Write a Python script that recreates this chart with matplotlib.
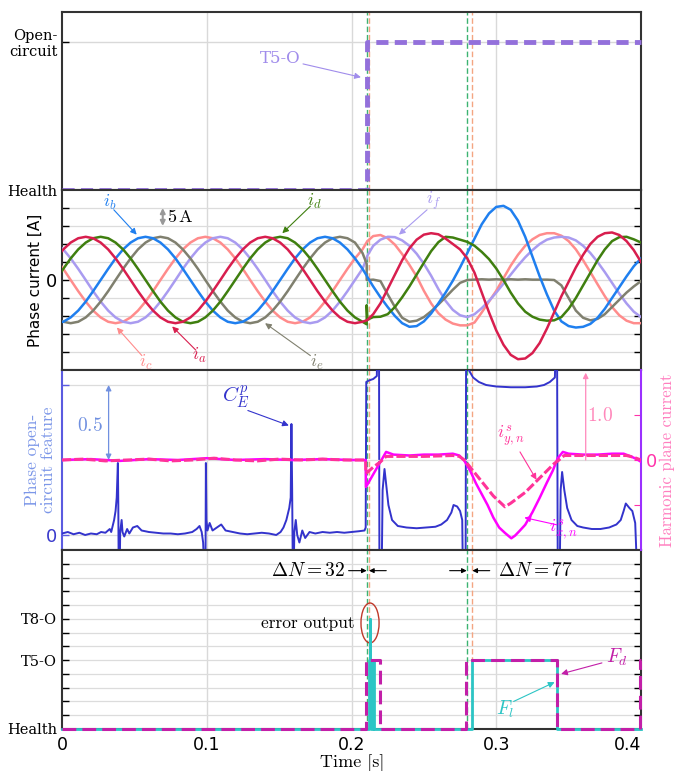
import matplotlib
matplotlib.use("Agg")
import numpy as np
import matplotlib.pyplot as plt
from matplotlib.patches import Ellipse

plt.rcParams['mathtext.fontset'] = 'cm'
SERIF = 'DejaVu Serif'
CM = 'cmr10'

# ---------------- data ----------------
# fault status (top panel): 0 = Health, 1 = Open-circuit
status_t = [0.0, 0.2105, 0.4]
status_v = [0, 1, 1]

# phase currents [A]
t_pre = [-0.0043, 0.0009, 0.0060, 0.0112, 0.0164, 0.0215, 0.0267, 0.0319, 0.0370, 0.0422,
         0.0474, 0.0525, 0.0577, 0.0629, 0.0680, 0.0732, 0.0784, 0.0835, 0.0887, 0.0939,
         0.0990, 0.1042, 0.1094, 0.1145, 0.1197, 0.1249, 0.1300, 0.1352, 0.1404, 0.1455,
         0.1507, 0.1559, 0.1610, 0.1662, 0.1714, 0.1765, 0.1817, 0.1869, 0.1920, 0.1972,
         0.2024, 0.2076, 0.2105]
ia_pre = [6.0, 8.5, 10.4, 11.6, 12.0, 11.6, 10.4, 8.5, 6.0, 3.1, 0.0, -3.1, -6.0, -8.5, -10.4,
          -11.6, -12.0, -11.6, -10.4, -8.5, -6.0, -3.1, 0.0, 3.1, 6.0, 8.5, 10.4, 11.6, 12.0,
          11.6, 10.4, 8.5, 6.0, 3.1, 0.0, -3.1, -6.0, -8.5, -10.4, -11.6, -12.0, -11.6, -11.2]
ib_pre = [-12.0, -11.6, -10.4, -8.5, -6.0, -3.1, 0.0, 3.1, 6.0, 8.5, 10.4, 11.6, 12.0, 11.6,
          10.4, 8.5, 6.0, 3.1, 0.0, -3.1, -6.0, -8.5, -10.4, -11.6, -12.0, -11.6, -10.4, -8.5,
          -6.0, -3.1, 0.0, 3.1, 6.0, 8.5, 10.4, 11.6, 12.0, 11.6, 10.4, 8.5, 6.0, 3.1, 1.2]
ic_pre = [6.0, 3.1, 0.0, -3.1, -6.0, -8.5, -10.4, -11.6, -12.0, -11.6, -10.4, -8.5, -6.0, -3.1,
          0.0, 3.1, 6.0, 8.5, 10.4, 11.6, 12.0, 11.6, 10.4, 8.5, 6.0, 3.1, 0.0, -3.1, -6.0,
          -8.5, -10.4, -11.6, -12.0, -11.6, -10.4, -8.5, -6.0, -3.1, 0.0, 3.1, 6.0, 8.5, 10.5]
id_pre = [0.0, 3.1, 6.0, 8.5, 10.4, 11.6, 12.0, 11.6, 10.4, 8.5, 6.0, 3.1, 0.0, -3.1, -6.0,
          -8.5, -10.4, -11.6, -12.0, -11.6, -10.4, -8.5, -6.0, -3.1, 0.0, 3.1, 6.0, 8.5, 10.4,
          11.6, 12.0, 11.6, 10.4, 8.5, 6.0, 3.1, 0.0, -3.1, -6.0, -8.5, -10.4, -11.6, -12.3]
ie_pre = [-10.4, -11.6, -12.0, -11.6, -10.4, -8.5, -6.0, -3.1, 0.0, 3.1, 6.0, 8.5, 10.4, 11.6,
          12.0, 11.6, 10.4, 8.5, 6.0, 3.1, 0.0, -3.1, -6.0, -8.5, -10.4, -11.6, -12.0, -11.6,
          -10.4, -8.5, -6.0, -3.1, 0.0, 3.1, 6.0, 8.5, 10.4, 11.6, 12.0, 11.6, 10.4, 7.5, 4.5]
if_pre = [10.4, 8.5, 6.0, 3.1, 0.0, -3.1, -6.0, -8.5, -10.4, -11.6, -12.0, -11.6, -10.4, -8.5,
          -6.0, -3.1, 0.0, 3.1, 6.0, 8.5, 10.4, 11.6, 12.0, 11.6, 10.4, 8.5, 6.0, 3.1, 0.0,
          -3.1, -6.0, -8.5, -10.4, -11.6, -12.0, -11.6, -10.4, -8.5, -6.0, -3.1, 0.0, 3.1, 6.0]

t_post = [0.2105, 0.2110, 0.2150, 0.2200, 0.2250, 0.2300, 0.2350, 0.2400, 0.2450, 0.2500,
          0.2550, 0.2600, 0.2650, 0.2700, 0.2750, 0.2800, 0.2850, 0.2900, 0.2950, 0.3000,
          0.3050, 0.3100, 0.3150, 0.3200, 0.3250, 0.3300, 0.3350, 0.3400, 0.3450, 0.3500,
          0.3550, 0.3600, 0.3650, 0.3700, 0.3750, 0.3800, 0.3850, 0.3900, 0.3950, 0.4000]
ia_post = [-11.2, -11.1, -9.5, -6.5, -2.5, 1.5, 5.5, 8.8, 11.2, 12.6, 13.0, 12.7, 11.5, 10.0,
           8.5, 6.0, 2.0, -3.5, -9.0, -14.0, -18.0, -20.8, -22.0, -21.8, -20.3, -17.5, -13.5,
           -9.0, -4.5, -0.5, 3.5, 7.0, 10.0, 12.0, 13.0, 13.2, 12.5, 10.8, 8.3, 5.0]
ib_post = [1.2, 0.8, -1.8, -4.8, -7.5, -10.0, -12.0, -13.0, -12.8, -11.5, -9.3, -6.5, -3.5,
           -0.2, 3.5, 7.5, 11.5, 15.5, 18.5, 20.3, 20.6, 19.5, 16.5, 12.0, 6.5, 1.0, -4.0,
           -8.5, -11.5, -12.8, -13.2, -13.0, -12.2, -10.5, -8.0, -5.0, -2.0, 1.0, 3.8, 6.0]
ic_post = [10.5, 10.8, 12.2, 12.5, 11.6, 9.8, 7.2, 4.2, 1.0, -3.0, -6.5, -9.2, -11.0, -12.1,
           -12.6, -12.6, -11.8, -9.0, -6.0, -3.0, 0.5, 4.0, 7.0, 9.5, 11.3, 12.5, 13.0, 13.0,
           12.3, 10.8, 8.5, 5.5, 2.2, -1.2, -4.5, -7.5, -9.8, -11.3, -12.0, -12.0]
id_post = [-7.0, -11.0, -10.3, -10.2, -9.5, -7.5, -4.8, -1.8, 1.5, 4.8, 8.0, 10.5, 12.0, 11.8,
           11.2, 10.6, 9.5, 7.8, 5.8, 3.2, 0.0, -3.5, -6.5, -8.8, -10.2, -11.0, -11.3, -11.2,
           -10.3, -8.0, -5.0, -1.5, 2.0, 5.5, 8.5, 10.8, 11.9, 12.0, 11.3, 10.4]
ie_post = [0.0, 0.0, 0.1, -0.3, -4.0, -7.5, -10.5, -11.6, -11.3, -10.3, -8.7, -6.8, -4.8, -2.7,
           -0.8, 0.0, 0.1, 0.2, 0.1, 0.2, 0.1, 0.2, 0.1, 0.2, 0.1, 0.1, 0.1, 0.0, -1.5, -5.0,
           -8.5, -10.5, -11.2, -10.8, -9.5, -7.5, -5.5, -3.5, -1.8, -0.3]
if_post = [6.0, 6.8, 9.5, 11.2, 12.0, 11.9, 11.0, 9.5, 7.3, 4.5, 1.2, -2.5, -5.8, -8.3, -9.8,
           -10.3, -9.5, -7.8, -5.8, -3.5, -1.0, 1.5, 4.0, 6.3, 8.3, 10.0, 11.2, 11.8, 12.0, 11.8,
           11.0, 9.5, 7.5, 5.0, 2.2, -0.8, -3.8, -6.5, -8.8, -10.3]

# phase open-circuit feature C_E^p (left axis of third panel)
ce_t = [0.000, 0.004, 0.008, 0.012, 0.016, 0.020, 0.024, 0.027, 0.030, 0.033, 0.034, 0.035,
        0.036, 0.037, 0.0378, 0.0386, 0.0389, 0.0392, 0.0398, 0.0402, 0.0412, 0.0418, 0.043,
        0.045, 0.0465, 0.049, 0.052, 0.055, 0.060, 0.065, 0.070, 0.075, 0.080, 0.085, 0.090,
        0.093, 0.095, 0.0965, 0.0975, 0.0985, 0.0991, 0.0994, 0.0998, 0.1005, 0.102, 0.104,
        0.107, 0.110, 0.113, 0.118, 0.123, 0.128, 0.133, 0.138, 0.143, 0.148, 0.151, 0.153,
        0.155, 0.157, 0.158, 0.1585, 0.159, 0.1595, 0.160, 0.1605, 0.1615, 0.1625, 0.164,
        0.166, 0.168, 0.171, 0.175, 0.180, 0.185, 0.190, 0.195, 0.200, 0.205, 0.209, 0.2098,
        0.2102, 0.212, 0.215, 0.2175, 0.2178, 0.219, 0.2193, 0.2208, 0.2215, 0.2228, 0.2238,
        0.2255, 0.228, 0.232, 0.238, 0.245, 0.252, 0.258, 0.262, 0.266, 0.269, 0.2705, 0.273,
        0.275, 0.2765, 0.277, 0.2788, 0.2792, 0.2805, 0.281, 0.284, 0.288, 0.293, 0.300, 0.310,
        0.320, 0.328, 0.333, 0.337, 0.3405, 0.3412, 0.342, 0.3425, 0.3438, 0.3445, 0.3455,
        0.347, 0.349, 0.352, 0.356, 0.360, 0.366, 0.372, 0.378, 0.383, 0.386, 0.388, 0.3895,
        0.392, 0.394, 0.396, 0.3975, 0.401]
ce_v = [0.01, 0.02, 0.005, 0.015, 0.0, 0.01, 0.005, 0.02, 0.015, 0.04, 0.02, 0.06, 0.10, 0.16,
        0.25, 0.48, 0.2, -0.3, -0.3, 0.02, 0.1, 0.02, -0.01, 0.04, 0.01, 0.05, 0.06, 0.03,
        0.02, 0.015, 0.01, 0.01, 0.005, 0.01, 0.02, 0.04, 0.06, 0.02, -0.05, -0.3, -0.3, 0.48,
        0.1, 0.03, 0.08, 0.03, 0.05, 0.07, 0.03, 0.02, 0.01, 0.005, 0.01, 0.015, 0.01, 0.0,
        0.02, 0.05, 0.1, 0.18, 0.25, 0.74, 0.3, -0.3, -0.3, 0.02, 0.1, 0.0, -0.05, 0.03, -0.02,
        0.02, 0.01, 0.02, 0.015, 0.02, 0.015, 0.02, 0.025, 0.03, 0.05, 1.02, 1.03, 1.04, 1.06,
        1.3, 1.3, -0.3, -0.3, 0.3, 0.44, 0.35, 0.2, 0.1, 0.06, 0.05, 0.045, 0.05, 0.055, 0.07,
        0.1, 0.15, 0.2, 0.19, 0.16, 0.1, -0.3, -0.3, 1.3, 1.3, 1.1, 1.05, 1.02, 1.0, 0.99,
        0.985, 0.985, 0.99, 1.0, 1.02, 1.05, 1.3, 1.3, -0.3, -0.3, 0.3, 0.42, 0.3, 0.18, 0.1,
        0.06, 0.05, 0.04, 0.04, 0.05, 0.07, 0.1, 0.16, 0.21, 0.18, 0.16, 0.08, -0.3, -0.3]

# harmonic plane currents (right axis of third panel)
ix_t = [0.0, 0.02, 0.04, 0.06, 0.08, 0.10, 0.12, 0.14, 0.16, 0.18, 0.20, 0.2098, 0.2100,
        0.2239, 0.229, 0.24, 0.25, 0.26, 0.27, 0.2745, 0.278, 0.282, 0.286, 0.290, 0.294,
        0.298, 0.302, 0.306, 0.3104, 0.313, 0.316, 0.320, 0.325, 0.330, 0.335, 0.339, 0.3425,
        0.346, 0.35, 0.36, 0.37, 0.38, 0.388, 0.393, 0.397, 0.4]
ix_v = [0.0, 0.01, -0.01, 0.01, 0.0, 0.02, 0.0, 0.01, 0.0, 0.01, 0.0, 0.0, -0.3, 0.09, 0.06,
        0.05, 0.06, 0.06, 0.07, 0.05, -0.01, -0.12, -0.26, -0.38, -0.5, -0.64, -0.75, -0.81,
        -0.87, -0.84, -0.79, -0.72, -0.58, -0.42, -0.25, -0.12, 0.02, 0.09, 0.07, 0.06, 0.06,
        0.07, 0.07, 0.04, 0.01, -0.02]
iy_t = [0.0, 0.015, 0.03, 0.045, 0.06, 0.075, 0.09, 0.105, 0.12, 0.135, 0.15, 0.165, 0.18,
        0.195, 0.2098, 0.2100, 0.2150, 0.2200, 0.2239, 0.23, 0.25, 0.27, 0.2745, 0.278, 0.283,
        0.288, 0.293, 0.298, 0.302, 0.306, 0.31, 0.315, 0.32, 0.325, 0.33, 0.335, 0.34, 0.3433,
        0.347, 0.36, 0.38, 0.39, 0.395, 0.4]
iy_v = [0.0, 0.01, -0.01, 0.0, 0.01, -0.01, 0.0, 0.02, 0.0, -0.01, 0.01, 0.0, 0.01, 0.0, 0.0,
        -0.15, -0.08, -0.02, 0.04, 0.04, 0.04, 0.05, 0.04, 0.0, -0.1, -0.2, -0.3, -0.4, -0.46,
        -0.52, -0.48, -0.42, -0.36, -0.28, -0.2, -0.12, -0.04, 0.0, 0.05, 0.05, 0.05, 0.05,
        0.03, 0.0]

# diagnosis outputs (bottom panel), switch index: 0 = Health, 5 = T5-O, 8 = T8-O
fd_t = [0.0, 0.2100, 0.2195, 0.2790, 0.3420, 0.3995, 0.4]
fd_v = [0, 5, 0, 5, 0, 5, 5]
fl_t = [0.0, 0.2120, 0.2126, 0.2131, 0.2138, 0.2150, 0.2158, 0.2833, 0.3420, 0.4]
fl_v = [0, 5, 8, 5, 0, 5, 0, 5, 0, 0]

fault_lines = [(0.2105, '#3CB371'), (0.2121, '#F4A582'), (0.2796, '#3CB371'), (0.2835, '#F4A582')]

# ---------------- figure ----------------
fig = plt.figure(figsize=(6.77, 7.71), dpi=100)
L, W = 62 / 677, 579 / 677


def rect(top, bot):
    return [L, 1 - bot / 771, W, (bot - top) / 771]


ax1 = fig.add_axes(rect(12, 190))
ax2 = fig.add_axes(rect(190, 370), sharex=ax1)
ax3 = fig.add_axes(rect(370, 550), sharex=ax1)
ax4 = fig.add_axes(rect(550, 729), sharex=ax1)
axes = [ax1, ax2, ax3, ax4]


def arrow(ax, tail, head, color, style='-|>', lw=0.8, ms=9):
    ax.annotate('', xy=head, xytext=tail,
                arrowprops=dict(arrowstyle=style, color=color, lw=lw, mutation_scale=ms,
                                shrinkA=0, shrinkB=0))


for ax in axes:
    ax.set_xlim(0, 0.4)
    ax.set_xticks([0, 0.1, 0.2, 0.3, 0.4])
    for x in [0.1, 0.2, 0.3]:
        ax.axvline(x, color='#D9D9D9', lw=1, zorder=0)
    for x, c in fault_lines:
        ax.axvline(x, color=c, lw=1, ls=(0, (4, 2)), zorder=1)
    for s in ax.spines.values():
        s.set_color('#333333')
        s.set_linewidth(1.5)
    ax.tick_params(axis='x', length=0)
    ax.tick_params(axis='y', direction='in', length=5, width=1, right=True)
for ax in axes[:3]:
    plt.setp(ax.get_xticklabels(), visible=False)

# ---- panel 1: fault status
ax1.set_ylim(0, 1.2)
ax1.axhline(1, color='#D9D9D9', lw=1, zorder=0)
ax1.plot(status_t, status_v, drawstyle='steps-post', color='#9370DB', lw=3.5,
         ls=(0, (2.5, 1.3)), clip_on=False, zorder=5)
ax1.set_yticks([0, 1])
ax1.set_yticklabels(['Health', 'Open-\ncircuit'], fontfamily=SERIF, fontsize=10.5)
ax1.tick_params(axis='y', right=False)
ax1.text(0.1505, 0.885, 'T5-O', color='#A08CEB', fontfamily=SERIF, fontsize=12,
         ha='center', va='center')
arrow(ax1, (0.1665, 0.85), (0.2065, 0.76), '#A08CEB')

# ---- panel 2: phase currents
ax2.set_ylim(-25, 25)
ax2.set_yticks(np.arange(-20, 25, 5))
ax2.set_yticklabels(['' if v != 0 else '0' for v in np.arange(-20, 25, 5)], fontsize=13)
for v in np.arange(-20, 25, 5):
    ax2.axhline(v, color='#DCDCDC', lw=0.9, zorder=0)
phases = [('c', ic_pre, ic_post, '#FF8C8C'), ('f', if_pre, if_post, '#A99BF0'),
          ('e', ie_pre, ie_post, '#80806F'), ('b', ib_pre, ib_post, '#1F7FEF'),
          ('d', id_pre, id_post, '#3F7F0F'), ('a', ia_pre, ia_post, '#D81E4E')]
for name, pre, post, col in phases:
    ax2.plot(t_pre + t_post, pre + post, color=col, lw=1.8, zorder=3)
ax2.set_ylabel('Phase current [A]', fontsize=11)
ax2.yaxis.set_label_coords(-0.034, 0.5)

ax2.text(0.0328, 21.4, '$i_b$', color='#1F7FEF', fontsize=13, ha='center', va='center')
arrow(ax2, (0.0358, 19.5), (0.0516, 12.6), '#1F7FEF')
ax2.text(0.1746, 21.9, '$i_d$', color='#3F7F0F', fontsize=13, ha='center', va='center')
arrow(ax2, (0.1716, 20.5), (0.1522, 13.0), '#3F7F0F')
ax2.text(0.2567, 21.9, '$i_f$', color='#A99BF0', fontsize=13, ha='center', va='center')
arrow(ax2, (0.2522, 19.5), (0.2328, 12.6), '#A99BF0')
ax2.text(0.0582, -22.8, '$i_c$', color='#FF8C8C', fontsize=13, ha='center', va='center')
arrow(ax2, (0.0552, -21.0), (0.0379, -13.2), '#FF8C8C')
ax2.text(0.0946, -21.0, '$i_a$', color='#D81E4E', fontsize=13, ha='center', va='center')
arrow(ax2, (0.0925, -19.5), (0.0761, -12.9), '#D81E4E')
ax2.text(0.1761, -22.8, '$i_e$', color='#80806F', fontsize=13, ha='center', va='center')
arrow(ax2, (0.1716, -21.0), (0.1403, -12.0), '#80806F')
arrow(ax2, (0.0696, 15), (0.0696, 20), '#999999', style='<|-|>', lw=1.5, ms=7)
ax2.text(0.0725, 17.6, '$5\\,\\mathrm{A}$', fontsize=13, ha='left', va='center')

# ---- panel 3: open-circuit feature and harmonic plane currents
ax3.set_ylim(-0.1, 1.1)
ax3.set_yticks([0, 1])
ax3.set_yticklabels(['0', ''], fontsize=13, color='#3A3ACC')
ax3.axhline(0, color='#DCDCDC', lw=0.9, zorder=0)
ax3.axhline(1, color='#DCDCDC', lw=0.9, zorder=0)
ax3.tick_params(axis='y', right=False, color='#5B5BE0')
ax3.spines['left'].set_color('#5B5BE0')
ax3.spines['right'].set_visible(False)
ax3.plot(ce_t, ce_v, color='#3333CC', lw=1.4, zorder=3)
ax3.set_ylabel('Phase open-\ncircuit feature', color='#7B96E8', fontfamily=CM, fontsize=12.5,
               linespacing=1.1)
ax3.yaxis.set_label_coords(-0.01, 0.5)
ax3.text(0.1203, 0.92, '$C^{p}_{E}$', color='#3333CC', fontsize=15, ha='center', va='center')
arrow(ax3, (0.1284, 0.83), (0.1567, 0.73), '#3333CC')
arrow(ax3, (0.0322, 0.5), (0.0322, 1.0), '#7090E0', style='<|-|>', lw=0.9, ms=8)
ax3.text(0.0194, 0.73, '$0.5$', color='#7090E0', fontsize=14, ha='center', va='center')

ax3r = ax3.twinx()
ax3r.set_ylim(-1, 1)
ax3r.set_yticks([-0.5, 0, 0.5])
ax3r.set_yticklabels(['', '0', ''], fontsize=13, color='#FF33AA')
ax3r.tick_params(axis='y', direction='in', length=5, color='#FF33AA')
ax3r.axhline(0, color='#DCDCDC', lw=0.9, zorder=0)
for side in ['left', 'top', 'bottom']:
    ax3r.spines[side].set_visible(False)
ax3r.spines['right'].set_color('#9B30FF')
ax3r.spines['right'].set_linewidth(1.5)
ax3r.plot(ix_t, ix_v, color='#FF00FF', lw=1.8, zorder=3)
ax3r.plot(iy_t, iy_v, color='#FF3399', lw=2.2, ls=(0, (3, 1)), zorder=4)
ax3r.set_ylabel('Harmonic plane current', color='#FF7FBF', fontfamily=CM, fontsize=12)
ax3r.yaxis.set_label_coords(1.033, 0.5)
arrow(ax3r, (0.3618, 0.0), (0.3618, 0.97), '#FF88BB', lw=0.9, ms=8)
ax3r.text(0.3716, 0.49, '$1.0$', color='#FF88BB', fontsize=14, ha='center', va='center')
ax3r.text(0.310, 0.26, '$i^{s}_{y,n}$', color='#FF3399', fontsize=13, ha='center', va='center')
arrow(ax3r, (0.3164, 0.09), (0.3278, -0.22), '#FF3399')
ax3r.text(0.3463, -0.78, '$i^{s}_{x,n}$', color='#FF00FF', fontsize=13, ha='center', va='center')
arrow(ax3r, (0.3418, -0.72), (0.3194, -0.64), '#FF00FF')

# ---- panel 4: diagnosis outputs
ax4.set_ylim(0, 13)
ax4.set_yticks(range(0, 13))
lab = {0: 'Health', 5: 'T5-O', 8: 'T8-O'}
ax4.set_yticklabels([lab.get(v, '') for v in range(0, 13)], fontfamily=SERIF, fontsize=10.5)
for v in range(1, 13):
    ax4.axhline(v, color='#DCDCDC', lw=0.9, zorder=0)
ax4.plot(fl_t, fl_v, drawstyle='steps-post', color='#2CC5C5', lw=2, clip_on=False, zorder=4)
ax4.plot(fd_t, fd_v, drawstyle='steps-post', color='#C21FA8', lw=2.2, ls=(0, (4.5, 2)),
         clip_on=False, zorder=5)
ax4.add_patch(Ellipse((0.2128, 7.7), 0.0125, 2.9, fill=False, edgecolor='#C0392B', lw=1))
ax4.text(0.170, 7.7, 'error output', fontfamily=CM, fontsize=12.5, ha='center', va='center')
ax4.text(0.1955, 11.5, '$\\Delta N = 32$', fontsize=14, ha='right', va='center')
arrow(ax4, (0.198, 11.5), (0.2105, 11.5), 'k', ms=7)
arrow(ax4, (0.224, 11.5), (0.2121, 11.5), 'k', ms=7)
ax4.text(0.3015, 11.5, '$\\Delta N = 77$', fontsize=14, ha='left', va='center')
arrow(ax4, (0.2678, 11.5), (0.2796, 11.5), 'k', ms=7)
arrow(ax4, (0.2955, 11.5), (0.2835, 11.5), 'k', ms=7)
ax4.text(0.3836, 5.2, '$F_d$', color='#C21FA8', fontsize=14, ha='center', va='center')
arrow(ax4, (0.373, 4.8), (0.3448, 4.0), '#C21FA8')
ax4.text(0.306, 1.4, '$F_l$', color='#2CC5C5', fontsize=14, ha='center', va='center')
arrow(ax4, (0.312, 2.0), (0.3403, 3.4), '#2CC5C5')

ax4.set_xticklabels(['0', '0.1', '0.2', '0.3', '0.4'], fontsize=12.5)
ax4.get_xticklabels()[-1].set_horizontalalignment('right')
ax4.tick_params(axis='x', pad=5)
fig.text(352 / 677, 1 - 763 / 771, 'Time [s]', fontfamily=CM, fontsize=13,
         ha='center', va='center')

fig.savefig('out.png', dpi=100)
